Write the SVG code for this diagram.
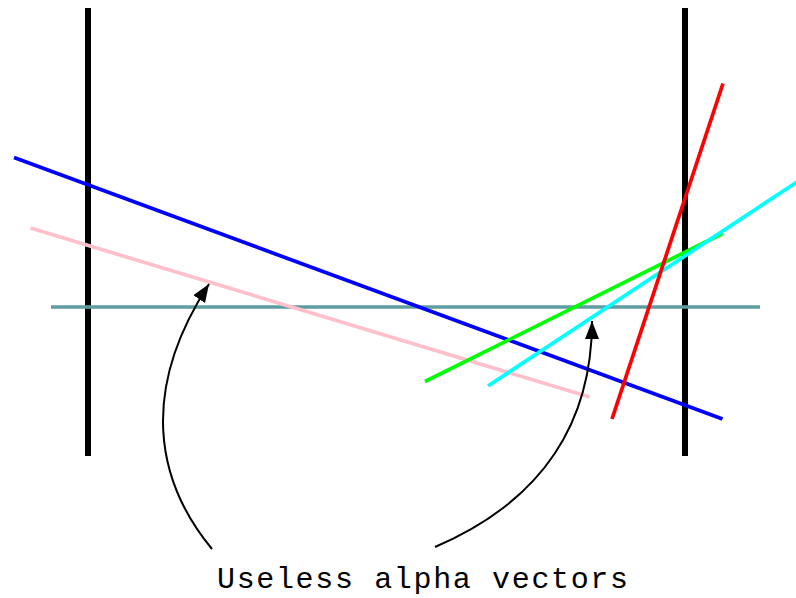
<svg xmlns="http://www.w3.org/2000/svg" width="796" height="598" viewBox="0 0 796 598">
<style>
.wall{stroke:#000;stroke-width:6;fill:none}
.vec{fill:none;stroke-width:3.7}
.conn{fill:none;stroke:#000;stroke-width:2}
.lbl{font-family:"Liberation Mono","Courier New",monospace;font-size:30px;fill:#000}
</style>
<defs>
<marker id="ah" markerUnits="userSpaceOnUse" markerWidth="20" markerHeight="16" refX="18" refY="8" orient="auto">
<path d="M0,1 L18,8 L0,15 Z" fill="#000"/>
</marker>
</defs>
<rect width="796" height="598" fill="#fff"/>
<g id="walls">
<line class="wall" x1="88" y1="8" x2="88" y2="456"/>
<line class="wall" x1="685" y1="8" x2="685" y2="456"/>
</g>
<g id="vectors">
<line id="teal" class="vec" stroke="#5f9ea0" stroke-width="4" x1="51" y1="307" x2="760" y2="307"/>
<line id="blue" class="vec" stroke="#0000ff" x1="14" y1="157.5" x2="722.5" y2="419"/>
<line id="pink" class="vec" stroke="#ffc0cb" x1="30.5" y1="228" x2="589.5" y2="397"/>
<line id="green" class="vec" stroke="#00ff00" x1="425" y1="381.5" x2="722.5" y2="233.5"/>
<line id="cyan" class="vec" stroke="#00ffff" x1="488" y1="386" x2="800" y2="180"/>
<line id="red" class="vec" stroke="#ff0000" x1="612" y1="419" x2="723" y2="83.5"/>
</g>
<g id="connectors">
<path class="conn" d="M212,549 C155,480 140,390 209,284" marker-end="url(#ah)"/>
<path class="conn" d="M435,547 C545,500 592,420 592,321" marker-end="url(#ah)"/>
</g>
<g id="label">
<text class="lbl" x="217" y="588" textLength="411" lengthAdjust="spacing">Useless alpha vectors</text>
</g>
</svg>
